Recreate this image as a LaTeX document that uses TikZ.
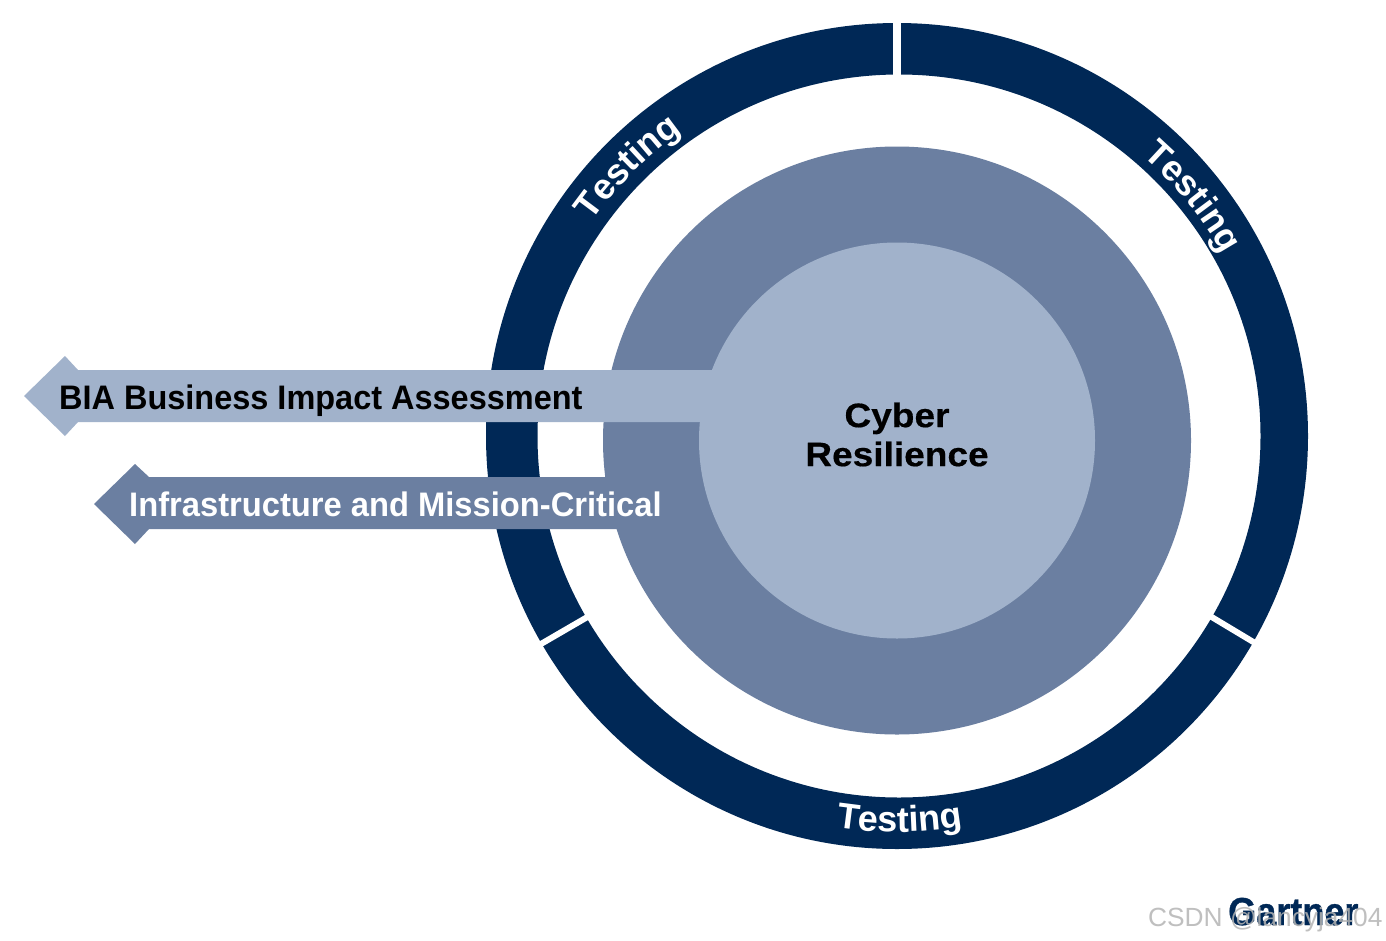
\documentclass[tikz,border=0pt]{standalone}
\usepackage{fontspec}
\setmainfont{Liberation Sans}
\newfontfamily\condbf[FakeStretch=0.955]{Liberation Sans Bold}
\newfontfamily\condbfb[FakeStretch=0.962]{Liberation Sans Bold}
\newfontfamily\widebf[FakeStretch=1.09,FakeBold=0.4]{Liberation Sans Bold}
\newfontfamily\logobf[FakeStretch=0.925,FakeBold=0.8]{Liberation Sans Bold}
\usetikzlibrary{decorations.text}
\definecolor{navy}{HTML}{002856}
\definecolor{midblue}{HTML}{6B7FA1}
\definecolor{paleblue}{HTML}{A1B2CB}
\definecolor{wmgrey}{HTML}{B4B4B4}
\tikzset{
  x=1pt,y=-1pt,
  ringfill/.style={fill=navy,even odd rule},
  ringgap/.style={draw=white,line width=6pt},
  arrowlabel/.style={anchor=base west,inner sep=0pt},
  ringtext/.style={decorate,decoration={text along path,text align=center,
    text={|\fontsize{36}{40}\selectfont\bfseries\color{white}|Testing}}},
}
\begin{document}
\begin{tikzpicture}
\useasboundingbox (0,0) rectangle (1386,940);
\fill[white] (0,0) rectangle (1386,940);
% ring
\fill[ringfill] (897,436) ellipse[x radius=411,y radius=413] (899,436) circle[radius=361.5];
\coordinate (gt1) at (897,15);\coordinate (gt2) at (897,80);
\draw[white,line width=8pt] (gt1) -- (gt2);
\coordinate (gl1) at (534,648);\coordinate (gl2) at (596,612);
\coordinate (gr1) at (1260,646);\coordinate (gr2) at (1200,610);
\draw[ringgap] (gl1) -- (gl2);
\draw[ringgap] (gr1) -- (gr2);
% discs
\fill[midblue] (897,440.5) circle[radius=294];
% arrows
\fill[paleblue] (24,396) -- (65,356) -- (78,370) -- (725,370) -- (725,422) -- (78,422) -- (65,436) -- cycle;
\fill[midblue] (94,504) -- (135,464) -- (149,477) -- (625,477) -- (625,529) -- (149,529) -- (135,544) -- cycle;
\fill[paleblue] (897,440.5) circle[radius=198];
% labels
\node[arrowlabel,font=\fontsize{34}{40}\condbf,text=black] (bia) at (59,409.5) {BIA Business Impact Assessment};
\node[arrowlabel,font=\fontsize{34}{40}\condbfb,text=white] (inf) at (129,516) {Infrastructure and Mission-Critical};
\node[font=\fontsize{34}{39}\widebf,align=center,inner sep=0pt] (cr) at (897,434.5) {Cyber\\Resilience};
% curved labels
\begin{scope}[shift={(897,436)},x=1pt,y=1pt]
\path[ringtext] (160:373pt) arc[start angle=160,end angle=110,radius=373pt];
\path[ringtext] (64:373pt) arc[start angle=64,end angle=14,radius=373pt];
\path[ringtext] (-111.6:396pt) arc[start angle=-111.6,end angle=-67.6,radius=396pt];
\end{scope}
% logo + watermark
\node[font=\fontsize{39}{40}\logobf,text=navy,anchor=base west,inner sep=0pt] (logo) at (1228,925) {Gartner};
\node[font=\fontsize{26.3}{30}\selectfont,text=wmgrey,opacity=.85,anchor=base west,inner sep=0pt] (wm) at (1148,926) {CSDN @lancyja404};
\end{tikzpicture}
\end{document}
